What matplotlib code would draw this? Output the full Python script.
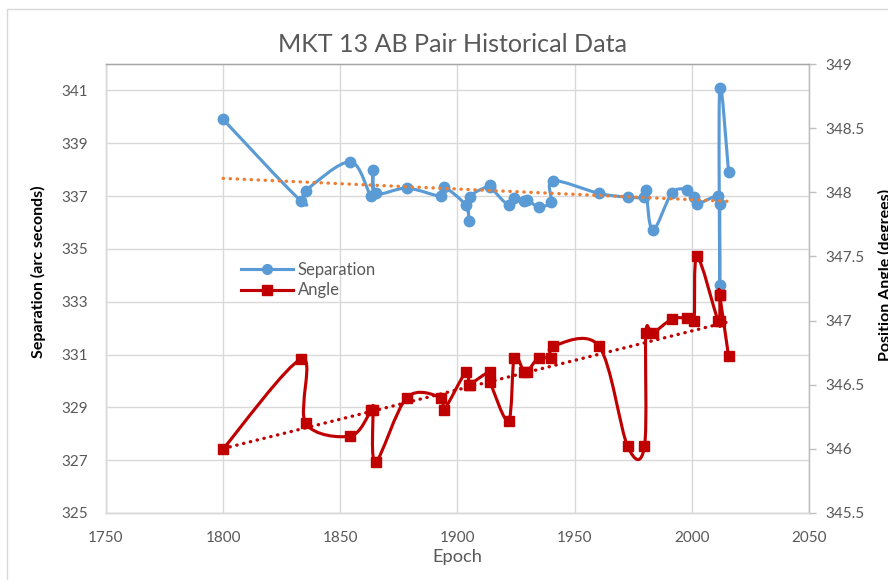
import numpy as np
import matplotlib
matplotlib.use("Agg")
import matplotlib.pyplot as plt
from matplotlib.path import Path
from matplotlib.patches import PathPatch, Rectangle
from matplotlib.lines import Line2D

# observation epochs (shared by both series)
epochs = [1800.0, 1833.4, 1835.2, 1854.3, 1863.2, 1863.9, 1865.1, 1878.4, 1892.8, 1894.1,
          1903.6, 1904.8, 1905.2, 1913.7, 1914.0, 1921.8, 1924.2, 1928.3, 1929.8, 1934.6,
          1939.8, 1940.7, 1960.4, 1972.6, 1979.8, 1980.4, 1983.3, 1991.4, 1998.0, 2000.9,
          2002.2, 2011.1, 2011.9, 2011.9, 2011.9, 2015.7]

# separation in arc seconds
separation = [339.9, 336.8, 337.2, 338.3, 337.0, 338.0, 337.1, 337.3, 337.0, 337.35,
              336.65, 336.06, 336.95, 337.4, 337.35, 336.65, 336.93, 336.8, 336.85, 336.6,
              336.78, 337.58, 337.1, 336.96, 336.96, 337.24, 335.7, 337.1, 337.24, 336.96,
              336.7, 337.02, 336.7, 333.65, 341.1, 337.9]

# position angle in degrees
angle = [346.0, 346.7, 346.2, 346.1, 346.3, 346.3, 345.9, 346.4, 346.4, 346.3,
         346.6, 346.5, 346.5, 346.6, 346.52, 346.22, 346.71, 346.6, 346.6, 346.71,
         346.71, 346.8, 346.8, 346.02, 346.02, 346.9, 346.9, 347.01, 347.02, 347.0,
         347.5, 347.0, 347.0, 347.2, 347.2, 346.72]

left_ticks = [325, 327, 329, 331, 333, 335, 337, 339, 341]
right_ticks = [345.5, 346, 346.5, 347, 347.5, 348, 348.5, 349]
x_ticks = [1750, 1800, 1850, 1900, 1950, 2000, 2050]

BLUE = "#5B9BD5"
RED = "#C00000"
ORANGE = "#ED7D31"
GRID = "#D9D9D9"
TXT = "#595959"

plt.rcParams["font.family"] = ["Lato", "DejaVu Sans"]


def smooth_path(xs, ys):
    # Excel-like smoothed line: cubic bezier through points (catmull-rom tangents)
    pts = np.column_stack([xs, ys]).astype(float)
    n = len(pts)
    verts = [pts[0]]
    codes = [Path.MOVETO]
    for i in range(n - 1):
        p0 = pts[max(i - 1, 0)]
        p1 = pts[i]
        p2 = pts[i + 1]
        p3 = pts[min(i + 2, n - 1)]
        verts += [p1 + (p2 - p0) / 6.0, p2 - (p3 - p1) / 6.0, p2]
        codes += [Path.CURVE4] * 3
    return Path(verts, codes)


def fit_text(t, length_px):
    # scale font so the text spans about length_px pixels
    r = fig.canvas.get_renderer()
    t.set_fontsize(t.get_fontsize() * length_px / t.get_window_extent(r).width)


fig = plt.figure(figsize=(8.88, 5.8), dpi=100)
fig.patches.append(Rectangle((7 / 888, -0.1), 1.2, 0.1 + 1 - 9 / 580,
                             transform=fig.transFigure, fill=False,
                             ec=GRID, lw=1.0))

ax = fig.add_axes([106 / 888, 1 - 513 / 580, 703 / 888, 449 / 580])
ax2 = ax.twinx()

DOT = (0, (0.1, 2.0))

# separation
ax.add_patch(PathPatch(smooth_path(epochs, separation), fc="none", ec=BLUE, lw=2.25,
                       zorder=3, capstyle="round", joinstyle="round"))
ax.plot(epochs, separation, ls="none", marker="o", ms=7.5, color=BLUE, zorder=4)
k, b = np.polyfit(epochs, separation, 1)
tx = np.array([min(epochs), max(epochs)])
ax.plot(tx, k * tx + b, color=ORANGE, lw=2.4, ls=DOT,
        dash_capstyle="round", zorder=5)

# angle
ax2.add_patch(PathPatch(smooth_path(epochs, angle), fc="none", ec=RED, lw=2.25,
                        zorder=3, capstyle="round", joinstyle="round"))
ax2.plot(epochs, angle, ls="none", marker="s", ms=7.5, color=RED, zorder=4)
k2, b2 = np.polyfit(epochs, angle, 1)
ax2.plot(tx, k2 * tx + b2, color=RED, lw=2.4, ls=DOT,
         dash_capstyle="round", zorder=5)

ax.set_xlim(1750, 2050)
ax.set_ylim(325, 342)
ax2.set_ylim(345.5, 349)
ax.set_xticks(x_ticks)
ax.set_yticks(left_ticks)
ax2.set_yticks(right_ticks)
ax2.set_yticklabels([f"{v:g}" for v in right_ticks])

ax.grid(True, color=GRID, lw=1.0)
ax.set_axisbelow(True)
ax.tick_params(axis="both", length=0, pad=13, labelsize=11, labelcolor=TXT)
ax2.tick_params(axis="y", length=5, width=1, color="#BFBFBF", pad=7,
                labelsize=11, labelcolor=TXT)

for a in (ax, ax2):
    for s in a.spines.values():
        s.set_color(GRID)
        s.set_linewidth(1.0)
ax2.spines["right"].set_color("#BFBFBF")
ax2.spines["top"].set_color("#A6A6A6")

title = fig.text(453 / 888, 1 - 44 / 580, "MKT 13 AB Pair Historical Data", ha="center",
                 va="center", fontsize=17, color=TXT)
xlab = fig.text(457 / 888, 1 - 557 / 580, "Epoch", ha="center", va="center",
                fontsize=12, color=TXT)
fit_text(title, 350)
fit_text(xlab, 50)
fig.text(38 / 888, 1 - 272 / 580, "Separation (arc seconds)", rotation=90,
         ha="center", va="center", fontsize=11.5, fontweight="bold", color="black")
fig.text(878 / 888, 1 - 275 / 580, "Position Angle (degrees)", rotation=90,
         ha="left", va="center", fontsize=11.5, fontweight="bold", color="black")

handles = [Line2D([], [], color=BLUE, lw=2.25, marker="o", ms=7),
           Line2D([], [], color=RED, lw=2.25, marker="s", ms=7)]
leg = fig.legend(handles, ["Separation", "Angle"], loc="upper left",
                 bbox_to_anchor=(241 / 888, 1 - 262 / 580), frameon=False,
                 borderpad=0, borderaxespad=0, handlelength=3.1,
                 handletextpad=0.3, labelspacing=0.26, fontsize=12)
for t in leg.get_texts():
    t.set_color(TXT)

fig.savefig("out.png", dpi=100)
